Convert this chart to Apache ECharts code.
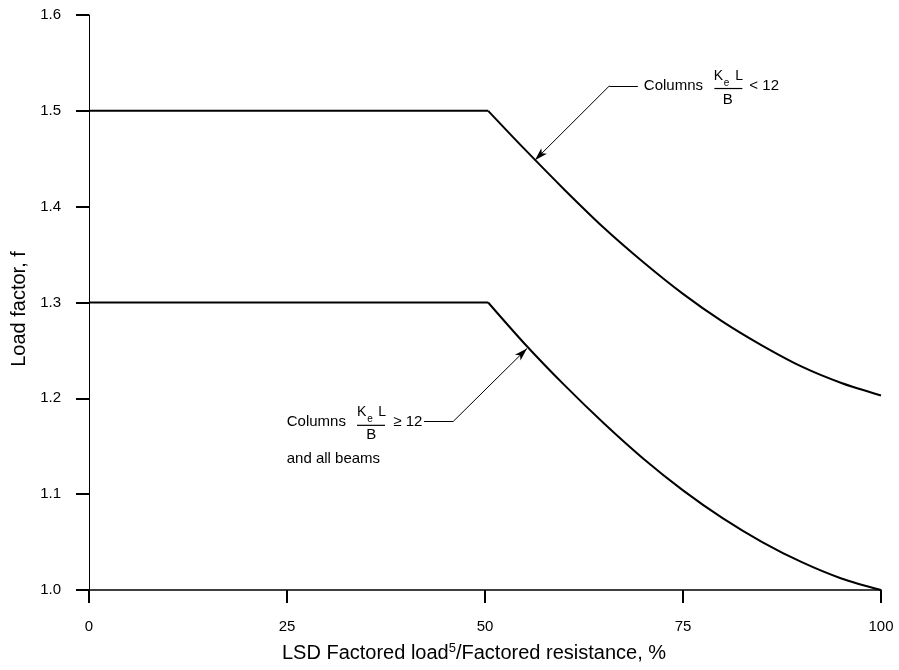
<!DOCTYPE html>
<html>
<head>
<meta charset="utf-8">
<script src="https://cdn.jsdelivr.net/npm/echarts@6/dist/echarts.min.js"></script>
<style>
html,body{margin:0;padding:0;background:#fff;}
#chart{width:899px;height:670px;}
</style>
</head>
<body>
<div id="chart"></div>
<script>
// ---- data ----
var xUpper = [0, 50.4, 55, 60, 65, 70, 75, 80, 85, 90, 95, 100];
var fUpper = [1.5, 1.5, 1.460, 1.418, 1.378, 1.342, 1.309, 1.280, 1.255, 1.233, 1.216, 1.203];
var xLower = [0, 50.4, 55, 60, 65, 70, 75, 80, 85, 90, 95, 100];
var fLower = [1.3, 1.3, 1.257, 1.214, 1.174, 1.137, 1.104, 1.075, 1.050, 1.029, 1.012, 1.0];
var xTicks = [0, 25, 50, 75, 100];
var yTicks = [1.0, 1.1, 1.2, 1.3, 1.4, 1.5, 1.6];
// annotation leaders (data coords): [textEnd, bend, arrowTip]
var upperLeader = [[69.3, 1.526], [65.7, 1.526], [56.3, 1.4485]];
var lowerLeader = [[42.3, 1.176], [46.0, 1.176], [55.3, 1.252]];

var FONT = 'Liberation Sans, Arial, sans-serif';

function pairs(xs, ys) { return xs.map(function (x, i) { return [x, ys[i]]; }); }

function leaderMarkLine(pts) {
  return {
    silent: true,
    animation: false,
    lineStyle: { color: '#000', width: 1, type: 'solid' },
    label: { show: false },
    emphasis: { disabled: true },
    data: [
      [{ coord: pts[0], symbol: 'none' }, { coord: pts[1], symbol: 'none' }],
      [{ coord: pts[1], symbol: 'none' }, { coord: pts[2], symbol: 'arrow', symbolSize: [6, 13] }]
    ]
  };
}

function curveSeries(xs, ys, leader) {
  var pts = pairs(xs, ys);
  return [
    { type: 'line', data: pts.slice(0, 2), symbol: 'none', smooth: false,
      lineStyle: { color: '#000', width: 2 }, markLine: leaderMarkLine(leader) },
    { type: 'line', data: pts.slice(1), symbol: 'none', smooth: 0.3,
      lineStyle: { color: '#000', width: 2 } }
  ];
}

var chart = echarts.init(document.getElementById('chart'), null, { renderer: 'canvas' });

var option = {
  animation: false,
  backgroundColor: '#fff',
  grid: { left: 89, right: 18, top: 15, bottom: 78, containLabel: false },
  xAxis: {
    type: 'value',
    min: xTicks[0], max: xTicks[xTicks.length - 1], interval: 25,
    name: 'LSD Factored load{sup|5}/Factored resistance, %',
    nameLocation: 'middle',
    nameGap: 51,
    nameTextStyle: {
      fontFamily: FONT, fontSize: 20, color: '#000', lineHeight: 24, padding: [0, 22, 0, 0],
      rich: { sup: { fontFamily: FONT, fontSize: 13, color: '#000', padding: [0, 0, 9, 0] } }
    },
    axisLine: { show: true, onZero: false, lineStyle: { color: '#000', width: 1.5 } },
    axisTick: { show: true, inside: false, length: 13, lineStyle: { color: '#000', width: 2 } },
    axisLabel: { fontFamily: FONT, fontSize: 15, color: '#000', margin: 29 },
    splitLine: { show: false }
  },
  yAxis: {
    type: 'value',
    min: yTicks[0], max: yTicks[yTicks.length - 1], interval: 0.1,
    name: 'Load factor, f',
    nameLocation: 'middle',
    nameGap: 57,
    nameTextStyle: { fontFamily: FONT, fontSize: 20, color: '#000', padding: [0, 13, 0, 0] },
    axisLine: { show: true, onZero: false, lineStyle: { color: '#000', width: 1 } },
    axisTick: { show: true, inside: false, length: 13, lineStyle: { color: '#000', width: 2 } },
    axisLabel: { fontFamily: FONT, fontSize: 15, color: '#000', margin: 28,
      formatter: function (v) { return v.toFixed(1); } },
    splitLine: { show: false }
  },
  series: curveSeries(xUpper, fUpper, upperLeader).concat(curveSeries(xLower, fLower, lowerLeader))
};
chart.setOption(option);

function txt(x, y, s, size, align) {
  return { type: 'text', x: x, y: y, silent: true,
    style: { text: s, fontFamily: FONT, fontSize: size, fill: '#000',
      align: align || 'left', verticalAlign: 'middle' } };
}
function bar(x1, x2, y) {
  return { type: 'line', silent: true, shape: { x1: x1, y1: y, x2: x2, y2: y },
    style: { stroke: '#000', lineWidth: 1.2 } };
}

var pU = chart.convertToPixel({ gridIndex: 0 }, upperLeader[0]);
var pL = chart.convertToPixel({ gridIndex: 0 }, lowerLeader[0]);

chart.setOption({
  graphic: [
    { type: 'group', x: pU[0], y: pU[1], children: [
      txt(6, 0, 'Columns', 15),
      txt(76, -10, 'K', 14),
      txt(86, -2.5, 'e', 10),
      txt(97.5, -10, 'L', 14),
      bar(76.5, 104.5, 2.6),
      txt(90, 14, 'B', 15, 'center'),
      txt(111.5, 0, '< 12', 15)
    ] },
    { type: 'group', x: pL[0], y: pL[1], children: [
      txt(-137.3, 0.6, 'Columns', 15),
      txt(-67, -9.4, 'K', 14),
      txt(-56.7, -2.2, 'e', 10),
      txt(-45.7, -9.4, 'L', 14),
      bar(-67, -39, 4),
      txt(-52.7, 14, 'B', 15, 'center'),
      txt(-30.7, 0.6, '\u2265 12', 15),
      txt(-137.3, 38, 'and all beams', 15)
    ] }
  ]
});
</script>
</body>
</html>
